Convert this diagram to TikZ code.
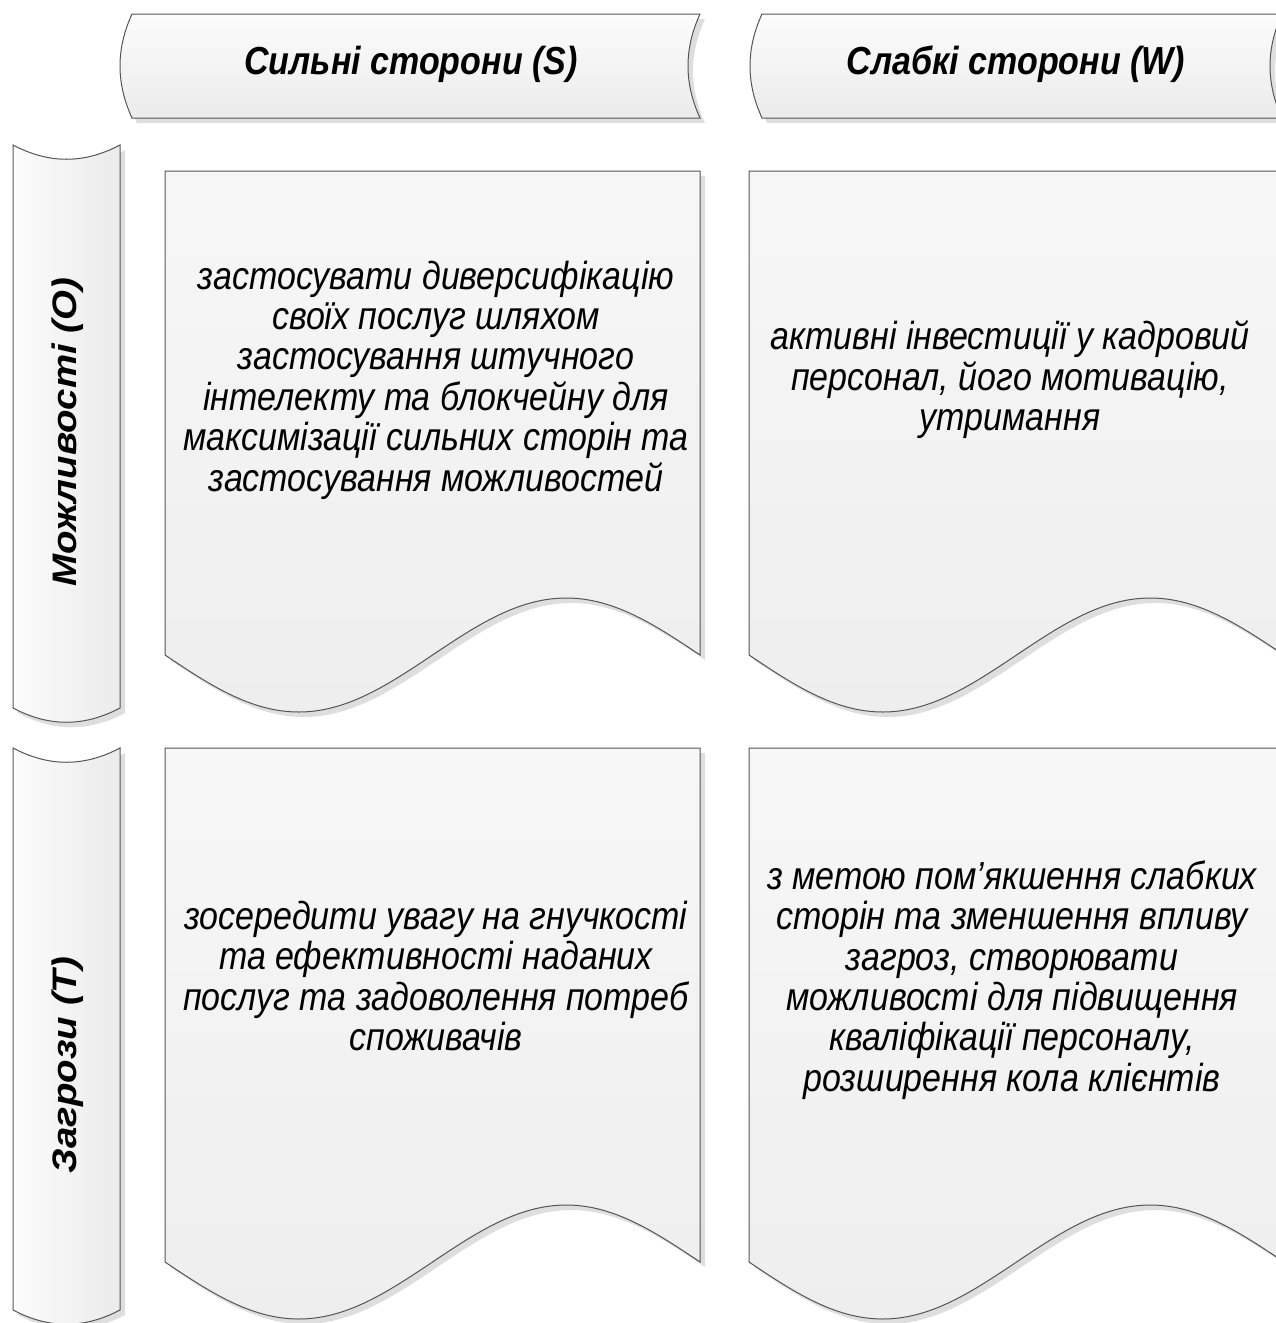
\documentclass[tikz,border=0pt]{standalone}
\usepackage{fontspec}
\usepackage{graphicx}
\setmainfont{Liberation Sans}
\definecolor{bordergray}{RGB}{85,85,85}
\definecolor{shadowgray}{RGB}{222,222,222}
\definecolor{hdrtop}{RGB}{252,252,252}
\definecolor{hdrbot}{RGB}{235,235,235}
\definecolor{boxtop}{RGB}{247,247,247}
\definecolor{boxbot}{RGB}{238,238,238}
\newcommand\vstretch[1]{\scalebox{1}[1.15]{\begin{tabular}{@{}c@{}}#1\end{tabular}}}
\newcommand\lstretch[1]{\scalebox{1.13}[1]{#1}}
\begin{document}
\begin{tikzpicture}[x=1pt,y=-1pt,
  edge/.style={draw=bordergray, line width=1pt},
  shadowfill/.style={fill=shadowgray, shift={(5,5)}},
  hdrshade/.style={top color=hdrtop, bottom color=hdrbot},
  lblshade/.style={left color=hdrtop, right color=hdrbot},
  boxshade/.style={top color=boxtop, bottom color=boxbot},
  hdrshape/.style 2 args={insert path={(#1,14) -- (#2,14)
     .. controls (#2-16,49) and (#2-16,83) .. (#2,118) -- (#1,118)
     .. controls (#1-16,83) and (#1-16,49) .. (#1,14) -- cycle}},
  lblshape/.style 2 args={insert path={(13,#1)
     .. controls (49,#1+19) and (84,#1+19) .. (120,#1) -- (120,#2)
     .. controls (84,#2+19) and (49,#2+19) .. (13,#2) -- cycle}},
  boxshape/.style n args={4}{insert path={(#1,#2) -- (#1,#3)
     sin ++(133.75,#4) cos ++(133.75,-#4) sin ++(133.75,-#4) cos ++(133.75,#4)
     -- (#1+535,#2) -- cycle}},
  txt/.style={font=\fontsize{34}{34.8}\selectfont\itshape, align=center, text=black, inner sep=0pt},
  hdr/.style={font=\fontsize{34}{34.8}\selectfont\bfseries\itshape, text=black, inner sep=0pt},
]
\useasboundingbox (0,0) rectangle (1275,1323);

% shadows
\fill[shadowfill, hdrshape={132}{700}];
\fill[shadowfill, hdrshape={762}{1282}];
\fill[shadowfill, lblshape={145}{708}];
\fill[shadowfill, lblshape={748}{1310}];
\fill[shadowfill, boxshape={165}{171}{655}{57}];
\fill[shadowfill, boxshape={749}{171}{655}{57}];
\fill[shadowfill, boxshape={165}{748}{1262}{57}];
\fill[shadowfill, boxshape={749}{748}{1262}{57}];

% shapes
\shade[hdrshade, hdrshape={132}{700}];
\draw[edge, hdrshape={132}{700}];
\shade[hdrshade, hdrshape={762}{1282}];
\draw[edge, hdrshape={762}{1282}];
\shade[lblshade, lblshape={145}{708}];
\draw[edge, lblshape={145}{708}];
\shade[lblshade, lblshape={748}{1310}];
\draw[edge, lblshape={748}{1310}];
\shade[boxshade, boxshape={165}{171}{655}{57}];
\draw[edge, boxshape={165}{171}{655}{57}];
\shade[boxshade, boxshape={749}{171}{655}{57}];
\draw[edge, boxshape={749}{171}{655}{57}];
\shade[boxshade, boxshape={165}{748}{1262}{57}];
\draw[edge, boxshape={165}{748}{1262}{57}];
\shade[boxshade, boxshape={749}{748}{1262}{57}];
\draw[edge, boxshape={749}{748}{1262}{57}];

% texts
\node[hdr] (hS) at (411,66) {\vstretch{Сильні сторони (S)}};
\node[hdr] (hW) at (1016,66) {\vstretch{Слабкі сторони (W)}};
\node[hdr, rotate=90] (lO) at (68,432) {\lstretch{Можливості (O)}};
\node[hdr, rotate=90] (lT) at (68,1065) {\lstretch{Загрози (T)}};

\node[txt] (t1) at (436,382) {\vstretch{застосувати диверсифікацію\\своїх послуг шляхом\\застосування штучного\\інтелекту та блокчейну для\\максимізації сильних сторін та\\застосування можливостей}};
\node[txt] (t2) at (1010,382) {\vstretch{активні інвестиції у кадровий\\персонал, його мотивацію,\\утримання}};
\node[txt] (t3) at (436,982) {\vstretch{зосередити увагу на гнучкості\\та ефективності наданих\\послуг та задоволення потреб\\споживачів}};
\node[txt] (t4) at (1012,982) {\vstretch{з метою пом’якшення слабких\\сторін та зменшення впливу\\загроз, створювати\\можливості для підвищення\\кваліфікації персоналу,\\розширення кола клієнтів}};
\end{tikzpicture}
\end{document}
